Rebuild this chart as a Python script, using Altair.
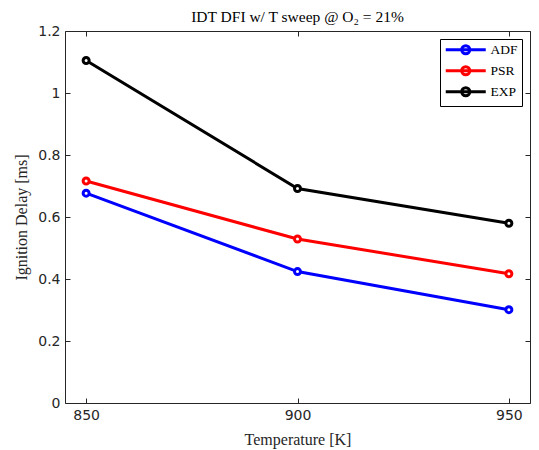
import altair as alt
import pandas as pd

# --- data ---
temps = [850, 900, 950]
adf = [0.677, 0.424, 0.301]
psr = [0.716, 0.529, 0.417]
exp = [1.105, 0.692, 0.580]
series_names = ["ADF", "PSR", "EXP"]
series_colors = ["#0000ff", "#ff0000", "#000000"]
x_ticks = [850, 900, 950]
y_ticks = [0, 0.2, 0.4, 0.6, 0.8, 1.0, 1.2]

rows = []
for name, vals in zip(series_names, [adf, psr, exp]):
    for t, v in zip(temps, vals):
        rows.append({"T": t, "IDT": v, "series": name})
df = pd.DataFrame(rows)

SERIF = "Liberation Serif"
SANS = "DejaVu Sans"
AX = "#262626"

xscale = alt.Scale(domain=[845, 955], nice=False, zero=False)
yscale = alt.Scale(domain=[0, 1.2], nice=False)
cscale = alt.Scale(domain=series_names, range=series_colors)

# line segment with a circle marker, drawn in units of sqrt(size)/2
legend_symbol = "M-1,0L7,0M3.8,0A0.8,0.8,0,1,1,2.2,0A0.8,0.8,0,1,1,3.8,0Z"

x_bottom = alt.Axis(values=x_ticks, format="d", title="Temperature [K]", orient="bottom",
                    offset=-5, tickSize=5, labelPadding=5, titlePadding=9)
y_left = alt.Axis(values=y_ticks, format="~g", title="Ignition Delay [ms]", orient="left",
                  offset=-5, tickSize=5, labelPadding=5, titlePadding=8)

base = alt.Chart(df)

lines = base.mark_line(strokeWidth=3).encode(
    x=alt.X("T:Q", scale=xscale, axis=x_bottom),
    y=alt.Y("IDT:Q", scale=yscale, axis=y_left),
    color=alt.Color(
        "series:N", scale=cscale, sort=series_names,
        legend=alt.Legend(
            title=None, orient="top-right", offset=8,
            symbolType=legend_symbol, symbolSize=100, symbolStrokeWidth=3,
            symbolFillColor="white",
            labelFont=SERIF, labelFontSize=13.5, labelColor="black",
            strokeColor="black", fillColor="white", padding=4,
            rowPadding=0, labelOffset=33,
        ),
    ),
)

points = base.mark_point(size=36, strokeWidth=3, fill="white", filled=False, opacity=1).encode(
    x=alt.X("T:Q", scale=xscale, axis=None),
    y=alt.Y("IDT:Q", scale=yscale, axis=None),
    color=alt.Color("series:N", scale=cscale, legend=None),
)

frame_ticks = base.mark_point(opacity=0).encode(
    x=alt.X("T:Q", scale=xscale,
            axis=alt.Axis(values=x_ticks, orient="top", labels=False, title=None,
                          offset=-5, tickSize=5)),
    y=alt.Y("IDT:Q", scale=yscale,
            axis=alt.Axis(values=y_ticks, orient="right", labels=False, title=None,
                          offset=-5, tickSize=5)),
)

chart = alt.layer(lines, points, frame_ticks).resolve_axis(
    x="independent", y="independent"
).properties(
    width=465, height=372,
    padding={"left": 57, "top": 23, "right": 1, "bottom": 48},
    autosize=alt.AutoSizeParams(type="none"),
    title=alt.TitleParams("IDT DFI w/ T sweep @ O₂ = 21%", font=SERIF, fontSize=15.5,
                          fontWeight="normal", color="black", anchor="middle", offset=-1),
).configure_view(
    stroke=AX, strokeWidth=1
).configure_axis(
    domain=False, grid=False, tickColor=AX, tickWidth=1,
    labelFont=SANS, labelFontSize=14, labelColor=AX,
    titleFont=SERIF, titleFontSize=16, titleFontWeight="normal", titleColor=AX,
)

chart.save("out.html", embed_options={"renderer": "svg", "actions": False})
